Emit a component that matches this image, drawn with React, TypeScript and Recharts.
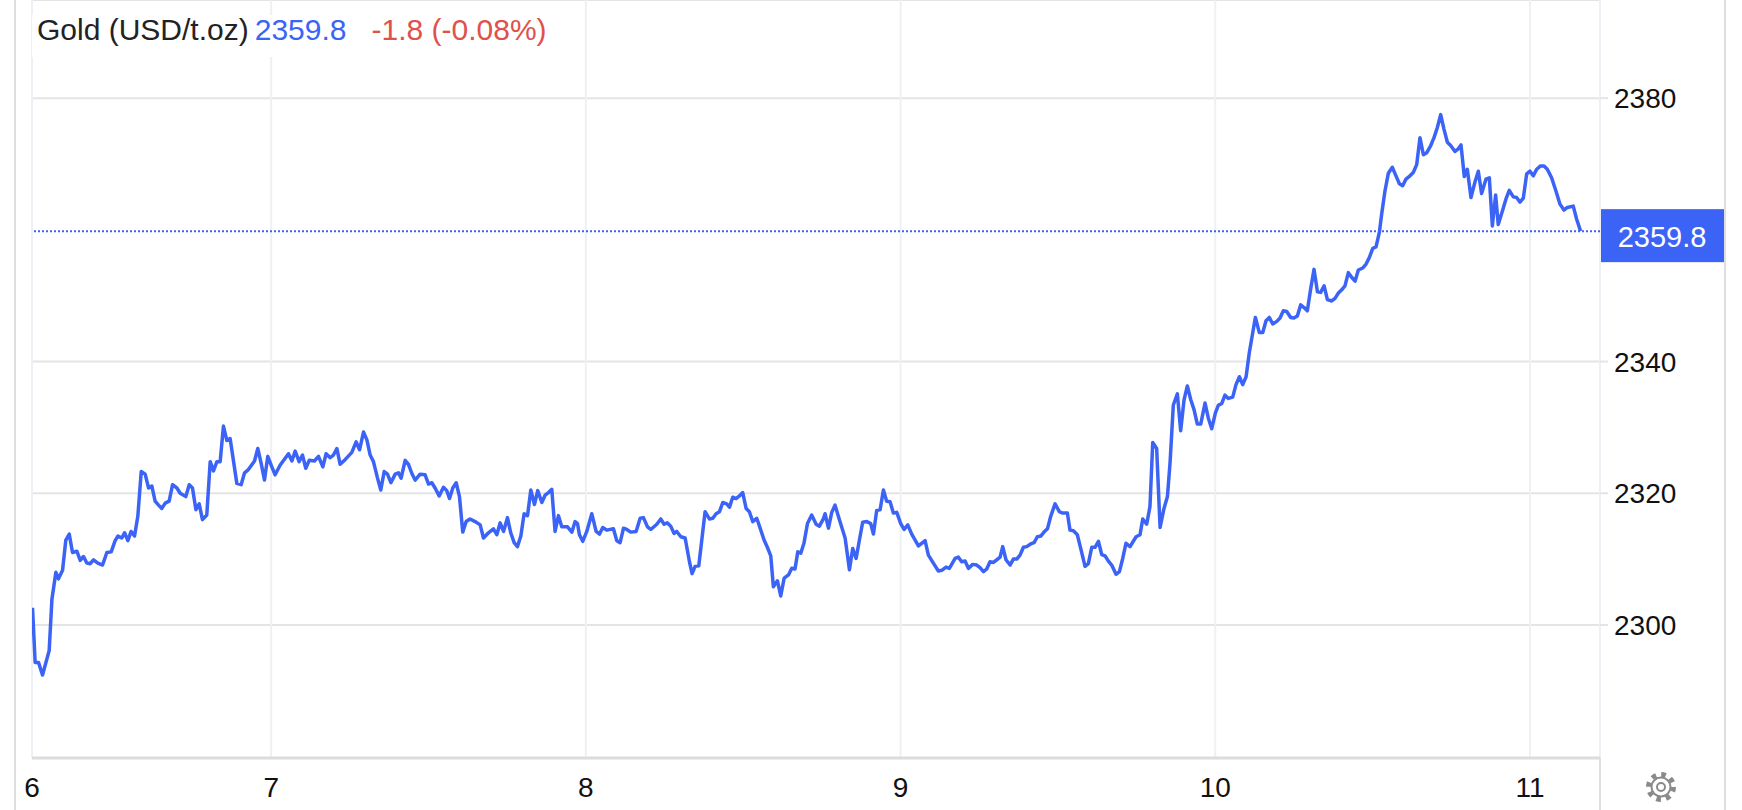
import { LineChart, Line, XAxis, YAxis, CartesianGrid, ReferenceLine } from 'recharts';

const FONT = "'Liberation Sans', Arial, Helvetica, sans-serif";
const BLUE = '#3b63f6';
const RED = '#e0514b';

// [hour of day, price], one list per day
const day6: [number, number][] = [
  [5.8, 2302.6], [6.0, 2294.3], [6.26, 2294.3], [6.56, 2292.4], [7.07, 2296.1], [7.28, 2303.9], [7.58, 2308.0],
  [7.78, 2307.0], [8.09, 2308.3], [8.34, 2312.9], [8.6, 2313.8], [8.85, 2311.0], [9.18, 2311.2], [9.44, 2309.8],
  [9.69, 2310.4], [9.94, 2309.4], [10.2, 2309.3], [10.45, 2309.9], [10.78, 2309.4], [11.14, 2309.1], [11.47, 2311.0],
  [11.8, 2311.1], [12.1, 2312.8], [12.31, 2313.5], [12.61, 2313.2], [12.82, 2314.0], [13.07, 2312.8], [13.32, 2314.2],
  [13.58, 2313.5], [13.83, 2316.5], [14.09, 2323.3], [14.39, 2322.9], [14.65, 2320.8], [14.9, 2321.1], [15.15, 2318.8],
  [15.41, 2318.2], [15.66, 2317.7], [15.92, 2318.5], [16.22, 2318.8], [16.48, 2321.3], [16.81, 2320.8], [17.06, 2320.0],
  [17.49, 2319.5], [17.75, 2321.3], [18.0, 2320.8], [18.26, 2317.5], [18.51, 2318.4], [18.76, 2316.0], [19.09, 2316.7],
  [19.35, 2324.8], [19.6, 2323.4], [19.86, 2324.8], [20.11, 2324.8], [20.36, 2330.2], [20.62, 2328.0], [20.87, 2328.3],
  [21.38, 2321.5], [21.71, 2321.3], [21.97, 2323.1], [22.22, 2323.5], [22.73, 2324.9], [22.98, 2326.8], [23.24, 2324.5],
  [23.49, 2322.0], [23.74, 2325.6],
];

const day7: [number, number][] = [
  [0.05, 2324.0], [0.3, 2322.8], [0.69, 2324.3], [1.32, 2326.0], [1.58, 2324.9], [1.83, 2326.4], [2.13, 2324.8],
  [2.39, 2325.8], [2.64, 2323.8], [2.9, 2325.0], [3.3, 2324.9], [3.61, 2325.6], [3.94, 2324.0], [4.19, 2326.0],
  [4.5, 2325.4], [4.75, 2325.8], [5.01, 2326.8], [5.26, 2324.4], [5.64, 2325.1], [6.15, 2326.2], [6.48, 2327.8],
  [6.74, 2326.6], [7.04, 2329.3], [7.3, 2328.1], [7.55, 2325.8], [7.8, 2324.8], [8.11, 2322.3], [8.36, 2320.5],
  [8.62, 2323.3], [8.87, 2322.9], [9.13, 2321.6], [9.46, 2322.9], [9.71, 2323.1], [9.91, 2322.3], [10.22, 2325.0],
  [10.47, 2324.4], [10.73, 2323.0], [10.98, 2322.0], [11.36, 2322.9], [11.74, 2322.8], [12.0, 2321.4], [12.25, 2321.6],
  [12.5, 2320.8], [12.81, 2319.6], [13.14, 2320.9], [13.39, 2320.4], [13.6, 2319.2], [13.85, 2320.8], [14.11, 2321.6],
  [14.36, 2319.5], [14.61, 2314.1], [14.87, 2315.7], [15.17, 2316.1], [15.55, 2315.7], [15.94, 2315.2], [16.19, 2313.2],
  [16.57, 2314.0], [16.95, 2314.6], [17.21, 2313.7], [17.46, 2315.5], [17.72, 2314.2], [18.02, 2316.3], [18.27, 2314.0],
  [18.53, 2312.5], [18.78, 2311.9], [19.04, 2313.5], [19.29, 2316.9], [19.55, 2316.6], [19.8, 2320.5], [20.08, 2318.3],
  [20.33, 2320.4], [20.64, 2318.6], [20.89, 2319.7], [21.15, 2320.1], [21.4, 2320.6], [21.65, 2314.2], [21.91, 2316.6],
  [22.16, 2314.9], [22.6, 2314.9], [22.93, 2314.1], [23.18, 2315.7], [23.36, 2315.4], [23.51, 2313.7], [23.76, 2312.7],
];

const day8: [number, number][] = [
  [0.07, 2314.2], [0.45, 2316.9], [0.78, 2314.2], [1.04, 2313.8], [1.29, 2314.8], [1.59, 2314.4], [2.1, 2314.6],
  [2.36, 2312.8], [2.61, 2312.5], [2.87, 2314.7], [3.12, 2314.5], [3.42, 2314.1], [3.83, 2314.2], [4.14, 2316.2],
  [4.39, 2316.3], [4.7, 2314.9], [4.95, 2314.5], [5.41, 2315.3], [5.71, 2316.1], [5.97, 2315.3], [6.22, 2315.5],
  [6.47, 2315.0], [6.73, 2313.9], [6.93, 2314.2], [7.24, 2313.4], [7.57, 2313.2], [7.9, 2309.6], [8.1, 2307.8],
  [8.33, 2308.9], [8.61, 2309.0], [8.84, 2312.9], [9.09, 2317.2], [9.42, 2316.1], [9.68, 2316.2], [9.93, 2316.9],
  [10.19, 2317.2], [10.44, 2318.6], [10.74, 2318.4], [10.95, 2317.9], [11.2, 2319.4], [11.45, 2319.2], [11.71, 2319.6],
  [11.96, 2320.1], [12.22, 2317.7], [12.47, 2317.2], [12.73, 2315.7], [13.03, 2316.2], [13.29, 2314.7], [13.59, 2312.9],
  [13.84, 2311.8], [14.1, 2310.5], [14.3, 2305.8], [14.61, 2306.7], [14.86, 2304.4], [15.12, 2307.1], [15.45, 2307.6],
  [15.7, 2308.6], [15.95, 2308.5], [16.16, 2311.1], [16.39, 2310.9], [16.64, 2312.5], [16.9, 2315.4], [17.22, 2316.7],
  [17.56, 2315.3], [17.81, 2315.0], [18.11, 2316.1], [18.24, 2316.9], [18.5, 2314.7], [18.75, 2317.1], [19.0, 2318.2],
  [19.33, 2316.0], [19.77, 2313.2], [20.1, 2308.4], [20.35, 2311.6], [20.61, 2310.1], [20.86, 2312.9], [21.11, 2315.6],
  [21.42, 2315.7], [21.72, 2315.4], [21.93, 2313.8], [22.18, 2317.4], [22.44, 2317.5], [22.69, 2320.5], [22.94, 2318.8],
  [23.2, 2318.7], [23.45, 2317.0], [23.71, 2317.1],
];

const day9: [number, number][] = [
  [0.01, 2315.4], [0.27, 2314.5], [0.55, 2315.2], [0.85, 2313.8], [1.11, 2312.9], [1.36, 2312.0], [1.61, 2312.4],
  [1.87, 2312.8], [2.12, 2310.6], [2.5, 2309.4], [2.88, 2308.2], [3.14, 2308.3], [3.47, 2308.8], [3.72, 2308.6],
  [4.16, 2310.1], [4.41, 2310.3], [4.66, 2309.6], [4.92, 2309.7], [5.17, 2308.6], [5.5, 2309.2], [5.81, 2309.1],
  [6.06, 2308.7], [6.32, 2308.1], [6.57, 2308.5], [6.82, 2309.6], [7.08, 2309.5], [7.33, 2309.9], [7.59, 2310.3],
  [7.79, 2311.9], [8.04, 2309.9], [8.35, 2309.1], [8.6, 2310.0], [8.86, 2310.0], [9.11, 2310.6], [9.37, 2311.8],
  [9.62, 2311.9], [9.92, 2312.3], [10.18, 2312.5], [10.43, 2313.4], [10.69, 2313.5], [10.94, 2314.1], [11.2, 2314.6],
  [11.45, 2316.5], [11.78, 2318.4], [12.11, 2317.2], [12.36, 2317.0], [12.72, 2317.0], [12.92, 2314.4], [13.18, 2314.3],
  [13.48, 2313.7], [13.74, 2311.6], [14.07, 2308.9], [14.32, 2309.3], [14.58, 2311.8], [14.83, 2311.8], [15.09, 2312.7],
  [15.34, 2310.7], [15.59, 2310.5], [15.85, 2309.7], [16.1, 2309.1], [16.43, 2307.7], [16.69, 2308.1], [16.94, 2310.1],
  [17.19, 2312.4], [17.5, 2311.9], [17.96, 2313.4], [18.26, 2313.7], [18.47, 2316.1], [18.77, 2315.3], [19.02, 2318.0],
  [19.23, 2327.7], [19.53, 2326.8], [19.79, 2314.8], [20.09, 2317.7], [20.35, 2319.5], [20.55, 2324.6], [20.8, 2333.4],
  [21.11, 2335.1], [21.36, 2329.5], [21.62, 2334.2], [21.87, 2336.3], [22.13, 2334.2], [22.38, 2332.7], [22.63, 2330.5],
  [22.89, 2330.5], [23.22, 2333.7], [23.47, 2331.4], [23.73, 2329.8],
];

const day10: [number, number][] = [
  [0.01, 2332.2], [0.24, 2333.4], [0.49, 2333.6], [0.74, 2334.9], [1.0, 2334.4], [1.33, 2334.6], [1.58, 2336.5],
  [1.84, 2337.7], [2.09, 2336.5], [2.35, 2337.7], [2.6, 2341.4], [2.85, 2344.3], [3.06, 2346.7], [3.36, 2344.4],
  [3.62, 2344.4], [3.87, 2346.2], [4.12, 2346.7], [4.38, 2345.7], [4.69, 2346.1], [4.94, 2346.6], [5.19, 2347.7],
  [5.45, 2347.6], [5.75, 2346.7], [6.0, 2346.6], [6.26, 2346.9], [6.51, 2348.6], [6.77, 2348.2], [7.02, 2347.7],
  [7.28, 2351.1], [7.53, 2354.0], [7.79, 2350.6], [8.04, 2350.5], [8.3, 2351.5], [8.55, 2349.4], [8.88, 2349.2],
  [9.13, 2349.6], [9.39, 2350.4], [9.64, 2350.9], [9.89, 2351.5], [10.15, 2353.5], [10.4, 2352.8], [10.66, 2352.2],
  [10.91, 2353.9], [11.24, 2354.2], [11.5, 2354.8], [11.75, 2355.8], [12.01, 2357.2], [12.26, 2357.4], [12.52, 2359.7],
  [12.69, 2362.4], [12.94, 2365.9], [13.2, 2368.6], [13.5, 2369.5], [13.78, 2368.2], [14.04, 2367.0], [14.29, 2366.7],
  [14.54, 2367.7], [14.85, 2368.2], [15.1, 2368.7], [15.36, 2369.9], [15.61, 2374.0], [15.87, 2371.4], [16.12, 2371.7],
  [16.43, 2372.8], [16.68, 2374.0], [16.93, 2375.5], [17.19, 2377.5], [17.44, 2375.3], [17.7, 2373.3], [17.95, 2372.8],
  [18.28, 2371.9], [18.53, 2372.3], [18.74, 2372.9], [18.99, 2368.1], [19.22, 2369.2], [19.5, 2364.9], [19.81, 2367.3],
  [20.06, 2368.9], [20.31, 2365.5], [20.64, 2367.7], [20.9, 2367.9], [21.13, 2360.6], [21.38, 2365.3], [21.58, 2360.8],
  [21.92, 2363.0], [22.17, 2364.7], [22.42, 2366.0], [22.73, 2365.0], [22.98, 2364.9], [23.24, 2364.2], [23.49, 2364.8],
  [23.75, 2368.5],
];

const day11: [number, number][] = [
  [0.0, 2368.9], [0.25, 2368.2], [0.51, 2369.2], [0.81, 2369.7], [1.07, 2369.7], [1.32, 2369.2], [1.65, 2367.9],
  [1.98, 2365.9], [2.29, 2363.9], [2.59, 2363.0], [2.85, 2363.4], [3.3, 2363.6], [3.56, 2361.6], [3.86, 2359.8],
];

const days: [number, [number, number][]][] = [
  [6, day6], [7, day7], [8, day8], [9, day9], [10, day10], [11, day11],
];

const lastPrice = 2359.8;
const changeText = '-1.8 (-0.08%)';
const priceTicks = [2300, 2320, 2340, 2380];
const dayTicks = [6.24, 7, 8, 9, 10, 11];
const xDomain: [number, number] = [6.24, 11.2225];
const yDomain: [number, number] = [2279.8, 2394.9];

const data = days.flatMap(([d, pts]) => pts.map(([h, p]) => ({ t: d + h / 24, price: p })));

const XTick = ({ x, y, payload }: any) => (
  <text x={x} y={y} textAnchor="middle" fontSize={28} fill="#111" fontFamily={FONT}>
    {Math.floor(payload.value)}
  </text>
);

const YTick = ({ x, y, payload }: any) => (
  <text x={x} y={y} dy="0.36em" textAnchor="start" fontSize={28} fill="#111" fontFamily={FONT}>
    {payload.value}
  </text>
);

const PriceTag = ({ viewBox }: any) => {
  if (!viewBox) return null;
  const x = viewBox.x + viewBox.width + 1;
  const y = viewBox.y;
  return (
    <g>
      <rect x={x} y={y - 22} width={123} height={53} fill={BLUE} />
      <text x={x + 61} y={y + 5} dy="0.36em" textAnchor="middle" fontSize={29} fill="#fff" fontFamily={FONT}>
        {lastPrice.toFixed(1)}
      </text>
    </g>
  );
};

const vline = (left: number) => (
  <div style={{ position: 'absolute', left, top: 0, width: 2, height: 810, background: '#dedede' }} />
);

export default function App() {
  return (
    <div
      style={{
        position: 'absolute',
        left: 0,
        top: 0,
        width: 1742,
        height: 810,
        background: '#fff',
        overflow: 'hidden',
        fontFamily: FONT,
      }}
    >
      {vline(14)}
      {vline(1599)}
      {vline(1724)}
      <LineChart width={1742} height={810} data={data} margin={{ top: 0, right: 0, bottom: 0, left: 32 }}>
        <CartesianGrid vertical={false} stroke="#e4e4e4" strokeWidth={2} />
        <CartesianGrid horizontal={false} stroke="#edf0f5" strokeWidth={2} />
        <XAxis
          type="number"
          dataKey="t"
          domain={xDomain}
          ticks={dayTicks}
          interval={0}
          allowDataOverflow
          height={52}
          tickSize={0}
          tickMargin={39}
          tick={<XTick />}
          axisLine={{ stroke: '#dcdcdc', strokeWidth: 3 }}
          tickLine={false}
        />
        <YAxis
          orientation="right"
          domain={yDomain}
          ticks={priceTicks}
          interval={0}
          allowDataOverflow
          width={142}
          tickSize={8}
          tickMargin={6}
          tick={<YTick />}
          axisLine={false}
          tickLine={{ stroke: '#e4e4e4', strokeWidth: 2 }}
        />
        <ReferenceLine y={lastPrice} stroke={BLUE} strokeWidth={2} strokeDasharray="2 2" label={<PriceTag />} />
        <Line
          type="linear"
          dataKey="price"
          stroke={BLUE}
          strokeWidth={3.5}
          strokeLinejoin="round"
          dot={false}
          activeDot={false}
          isAnimationActive={false}
        />
      </LineChart>
      <div
        style={{
          position: 'absolute',
          left: 32,
          top: 15,
          height: 42,
          paddingLeft: 5,
          paddingRight: 8,
          background: '#fff',
          fontSize: 30,
          lineHeight: '30px',
          whiteSpace: 'nowrap',
        }}
      >
        <span style={{ color: '#222' }}>Gold (USD/t.oz)</span>
        <span style={{ color: BLUE, marginLeft: 6 }}>{lastPrice.toFixed(1)}</span>
        <span style={{ color: RED, marginLeft: 25 }}>{changeText}</span>
      </div>
      <svg style={{ position: 'absolute', left: 1645, top: 771 }} width={32} height={32} viewBox="-16 -16 32 32">
        <circle r={12.5} fill="none" stroke="#8a8a8a" strokeWidth={5} strokeDasharray="4.6 5.2" />
        <circle r={9.5} fill="#fff" stroke="#8a8a8a" strokeWidth={2} />
        <circle r={4} fill="none" stroke="#8a8a8a" strokeWidth={2} />
      </svg>
    </div>
  );
}
